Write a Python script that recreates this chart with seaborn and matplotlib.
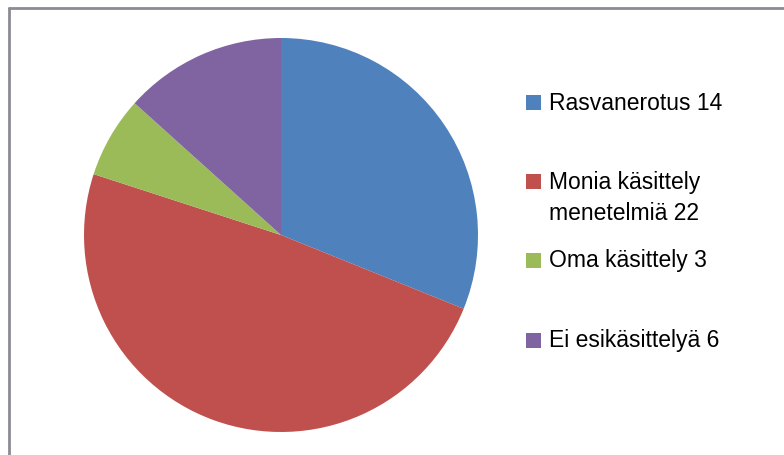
import matplotlib
matplotlib.use("Agg")
import matplotlib.pyplot as plt
from matplotlib.lines import Line2D
from matplotlib.patches import Rectangle
import seaborn as sns

# Data
labels = ["Rasvanerotus 14", "Monia käsittely\nmenetelmiä 22", "Oma käsittely 3", "Ei esikäsittelyä 6"]
values = [14, 22, 3, 6]
colors = ["#4F81BD", "#C0504D", "#9BBB59", "#8064A2"]

sns.set_theme(style="white")
plt.rcParams["font.family"] = ["Liberation Sans", "DejaVu Sans"]

W, H = 784, 456
fig = plt.figure(figsize=(W / 100, H / 100), dpi=100)
fig.patch.set_facecolor("white")

# pie centred at (281, 236) px, radius ~197 px
cx, cy, r = 281, 236, 197
ax = fig.add_axes([(cx - r) / W, (H - cy - r) / H, 2 * r / W, 2 * r / H])
ax.pie(values, colors=colors, startangle=90, counterclock=False,
       wedgeprops={"linewidth": 0})
ax.set_xlim(-1, 1)
ax.set_ylim(-1, 1)
ax.set_aspect("equal")
ax.axis("off")

# chart-area border (only top and left visible in the crop)
border = "#8E8A94"
fig.add_artist(Line2D([8.5 / W, 1], [1 - 8.5 / H] * 2, color=border, lw=2,
                      transform=fig.transFigure))
fig.add_artist(Line2D([8.5 / W] * 2, [0, 1 - 8.5 / H], color=border, lw=2,
                      transform=fig.transFigure))

# legend, placed like the Excel one
legend_y = [103, 182, 261, 341]
sq = 15
fs = 16.5
for lab, col, y in zip(labels, colors, legend_y):
    fig.add_artist(Rectangle((526 / W, (H - y - sq / 2) / H), sq / W, sq / H,
                             facecolor=col, edgecolor="none",
                             transform=fig.transFigure))
    lines = lab.split("\n")
    for i, line in enumerate(lines):
        fig.text(549 / W, (H - y - 32 * i) / H, line, fontsize=fs,
                 va="center", ha="left", color="black")

fig.savefig("out.png", dpi=100, facecolor="white")
